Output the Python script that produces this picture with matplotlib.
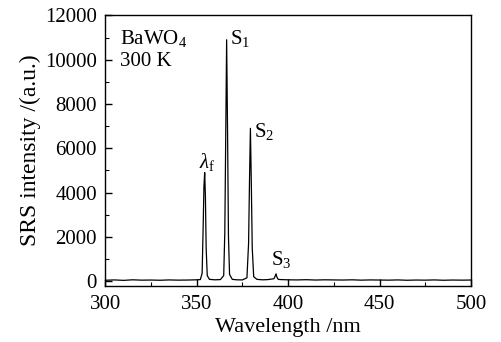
import matplotlib
matplotlib.use("Agg")
import matplotlib.pyplot as plt
from matplotlib.ticker import MultipleLocator

plt.rcParams['font.family'] = ['Liberation Serif', 'DejaVu Serif']
plt.rcParams['mathtext.fontset'] = 'custom'
plt.rcParams['mathtext.rm'] = 'Liberation Serif'
plt.rcParams['mathtext.it'] = 'Liberation Serif:italic'
plt.rcParams['mathtext.bf'] = 'Liberation Serif:bold'

# Spectrum points (wavelength nm, intensity a.u.)
wavelength = [300, 305, 310, 315, 320, 325, 330, 335, 340, 345, 350, 352, 353.0, 353.6, 354.0, 354.4, 354.8, 355.2, 355.8, 357,
              360, 363, 364.8, 365.4, 365.9, 366.4, 366.9, 367.4, 368.0, 369.5,
              372, 375, 377.5, 378.4, 378.9, 379.4, 379.9, 380.4, 381.2, 383,
              386, 389, 392.3, 392.9, 393.4, 393.9, 394.6, 396,
              400, 405, 410, 415, 420, 425, 430, 435, 440, 445, 450, 455, 460, 465, 470, 475, 480, 485, 490, 495, 500]
intensity = [40, 55, 35, 60, 45, 50, 40, 55, 45, 50, 60, 70, 350, 2600, 4300, 4900, 3800, 1500, 250, 80,
             60, 70, 250, 2200, 6500, 10900, 6800, 2000, 300, 80,
             60, 55, 150, 1700, 4500, 6900, 4400, 1500, 200, 80,
             60, 70, 110, 220, 330, 180, 80, 70,
             60, 55, 65, 50, 60, 55, 50, 60, 45, 55, 50, 45, 55, 40, 50, 45, 55, 40, 50, 45, 50]

peak_labels = [r'$\lambda_\mathrm{f}$', r'S$_1$', r'S$_2$', r'S$_3$']
label_x = [351.3, 368.0, 381.2, 390.8]
label_y = [4900, 10500, 6300, 500]

xticks = [300, 350, 400, 450, 500]
yticks = [0, 2000, 4000, 6000, 8000, 10000, 12000]

fig = plt.figure(figsize=(5.01, 3.42), dpi=100)
ax = fig.add_axes([0.21, 0.165, 0.73, 0.79])
ax.plot(wavelength, intensity, color='black', lw=0.9)

ax.set_xlim(300, 500)
ax.set_ylim(-200, 12000)
ax.set_xticks(xticks)
ax.set_yticks(yticks)
ax.xaxis.set_minor_locator(MultipleLocator(25))
ax.yaxis.set_minor_locator(MultipleLocator(1000))
ax.tick_params(which='both', direction='in', top=False, right=False, labelsize=15)
ax.tick_params(axis='x', which='major', pad=7)
ax.tick_params(axis='y', which='major', pad=6)
ax.tick_params(which='major', length=5, width=1)
ax.tick_params(which='minor', length=3, width=0.8)
for s in ax.spines.values():
    s.set_linewidth(1)

ax.set_xlabel('Wavelength /nm', fontsize=16, labelpad=3)
ax.set_ylabel('SRS intensity /(a.u.)', fontsize=17, labelpad=3)

for lab, x, y in zip(peak_labels, label_x, label_y):
    ax.text(x, y, lab, fontsize=15, ha='left', va='bottom')

ax.text(0.04, 0.955, r'BaWO$_4$', transform=ax.transAxes, fontsize=15, va='top')
ax.text(0.04, 0.865, '300 K', transform=ax.transAxes, fontsize=15, va='top')

fig.savefig('out.png', dpi=100)
